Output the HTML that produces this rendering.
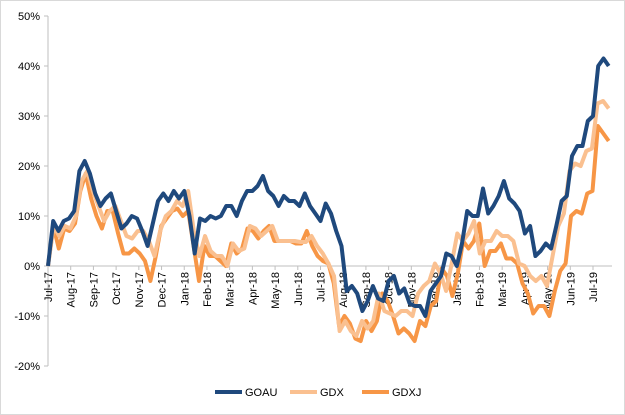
<!DOCTYPE html>
<html><head><meta charset="utf-8"><style>
body{margin:0;background:#fff;}
svg{display:block;font-family:"Liberation Sans",sans-serif;}
</style></head><body>
<svg id="chart" width="625" height="415">
<rect x="0.5" y="0.5" width="624" height="414" fill="#fff" stroke="#d9d9d9"/>
<g id="yaxis"></g>
<g id="xaxis"></g>
<g id="series"></g>
<g id="legend"></g>
</svg>
<script>
const months=["Jul-17","Aug-17","Sep-17","Oct-17","Nov-17","Dec-17","Jan-18","Feb-18","Mar-18","Apr-18","May-18","Jun-18","Jul-18","Aug-18","Sep-18","Oct-18","Nov-18","Dec-18","Jan-19","Feb-19","Mar-19","Apr-19","May-19","Jun-19","Jul-19"];
const yTicks=[-20,-10,0,10,20,30,40,50];
const seriesNames=["GOAU","GDX","GDXJ"];
const goau=[0,9,7,9,9.5,11,19,21,18.5,14.5,12,13.5,14.5,11,7.5,8.5,10,9.5,7,4,8.5,13,14.5,13,15,13.5,15,10,2.5,9.5,9,10,9.5,10,12,12,10,13,15,15,16,18,15,14,12,14,13,13,12,14.5,12,10.5,9,12.5,10.5,7,4,-5,-4,-5.5,-9,-7,-4,-6.5,-7,-3,-2,-5.5,-4.5,-7.5,-8,-8,-10,-5,-3.5,-2,2.5,2,0,4.5,11,10,10,15.5,10.5,12,14,17,13.5,12.5,11,6.5,8,2,3,4.5,3.5,8,13,14,22,24,24,29,30,40,41.5,40];
const gdx=[0,8,6,8,7.5,10,17,19,15,12,9,11,12,9,6,5.5,7,7,5,2,7,10,11,13,12,15,7,2,6,3,2,2,0,4.5,3,3.5,8,7.5,6,7,8,5,5,5,5,4.8,4.8,6,4,2.5,0.5,-2,-13,-11,-13,-14,-11,-12.5,-11,-5.5,-9,-9.5,-10,-9,-9,-10,-5.5,-4,-3,0.5,-1.5,-5,0.5,6.5,5,6.5,9,2.5,5,5,7,6,6,5,0.5,0,-2,-3,-2,-4,2,8,10.5,19,20.5,20,23,23.5,32.5,33,31.5];
const gdxj=[0,8,3.5,7.5,7,8.5,15,18.5,13.5,10,7.5,11,11,6.5,2.5,2.5,3.5,2.5,1,-3,2,8,9.5,11,11.5,10,11,4,-3,4,2,2,1,0,4.5,2.5,3.5,7.5,7,5.5,7,8,5,5,5,5,4.5,4.5,7,4,2,1,0.5,-3.5,-12,-10,-11.5,-14.5,-15,-11,-13,-11,-5.5,-7,-10,-13.5,-12.5,-13.5,-15,-11,-12,-8,-7,-0.5,-2,-6,-1.5,5,3.5,5,8.5,0,3,3,4.5,1.5,1.5,0.5,-3.5,-5.5,-9.5,-8,-8,-10,-5,-1,0.5,10,11,10.5,14.5,15,28,26.5,25];
const totalWeeks=107;
const X0=48,X1=593,Y0=266,PX=5;
const NS="http://www.w3.org/2000/svg";
function xMonth(m){return X0+m*(X1-X0)/24;}
function xWeek(w){return X0+w*(X1-X0)/(24*52/12);}
function yv(v){return Y0-v*PX;}
function mk(tag,attrs,parent){const e=document.createElementNS(NS,tag);for(const k in attrs)e.setAttribute(k,attrs[k]);parent.appendChild(e);return e;}
const ya=document.getElementById('yaxis');
mk('line',{x1:X0,y1:yv(50),x2:X0,y2:yv(-20),stroke:'#bfbfbf','stroke-width':1},ya);
yTicks.forEach(t=>{
 mk('line',{x1:X0-4,y1:yv(t),x2:X0,y2:yv(t),stroke:'#bfbfbf'},ya);
 const tx=mk('text',{x:X0-8,y:yv(t)+4,'text-anchor':'end','font-size':11,fill:'#000'},ya);
 tx.textContent=t+'%';
 
 
});
const xa=document.getElementById('xaxis');
mk('line',{x1:X0,y1:Y0,x2:612,y2:Y0,stroke:'#bfbfbf'},xa);
months.forEach((m,i)=>{
 const x=xMonth(i);
 mk('line',{x1:x,y1:Y0,x2:x,y2:Y0+4,stroke:'#bfbfbf'},xa);
 const tx=mk('text',{x:0,y:0,'text-anchor':'end','font-size':11,fill:'#000',transform:`translate(${x+4},${Y0+6}) rotate(-90)`},xa);
 tx.textContent=m;
 
 
});
const sg=document.getElementById('series');
const colors=["#1f497d","#fac090","#f79646"];
const data=[goau,gdx,gdxj];
[2,1,0].forEach(k=>{
 const arr=data[k];
 const pts=arr.map((v,i)=>xWeek(i*totalWeeks/(arr.length-1)).toFixed(1)+','+yv(v).toFixed(1)).join(' ');
 const pl=mk('polyline',{points:pts,fill:'none',stroke:colors[k],'stroke-width':4,'stroke-linejoin':'round'},sg);
 
 
});
const lg=document.getElementById('legend');
const lx=[215,290,362];
seriesNames.forEach((n,k)=>{
 const g=mk('g',{},lg);
 
 
 mk('line',{x1:lx[k],y1:392,x2:lx[k]+27,y2:392,stroke:colors[k],'stroke-width':4},g);
 const t=mk('text',{x:lx[k]+30,y:396,'font-size':11,fill:'#000'},g);
 t.textContent=n;
});
</script>
</body></html>
